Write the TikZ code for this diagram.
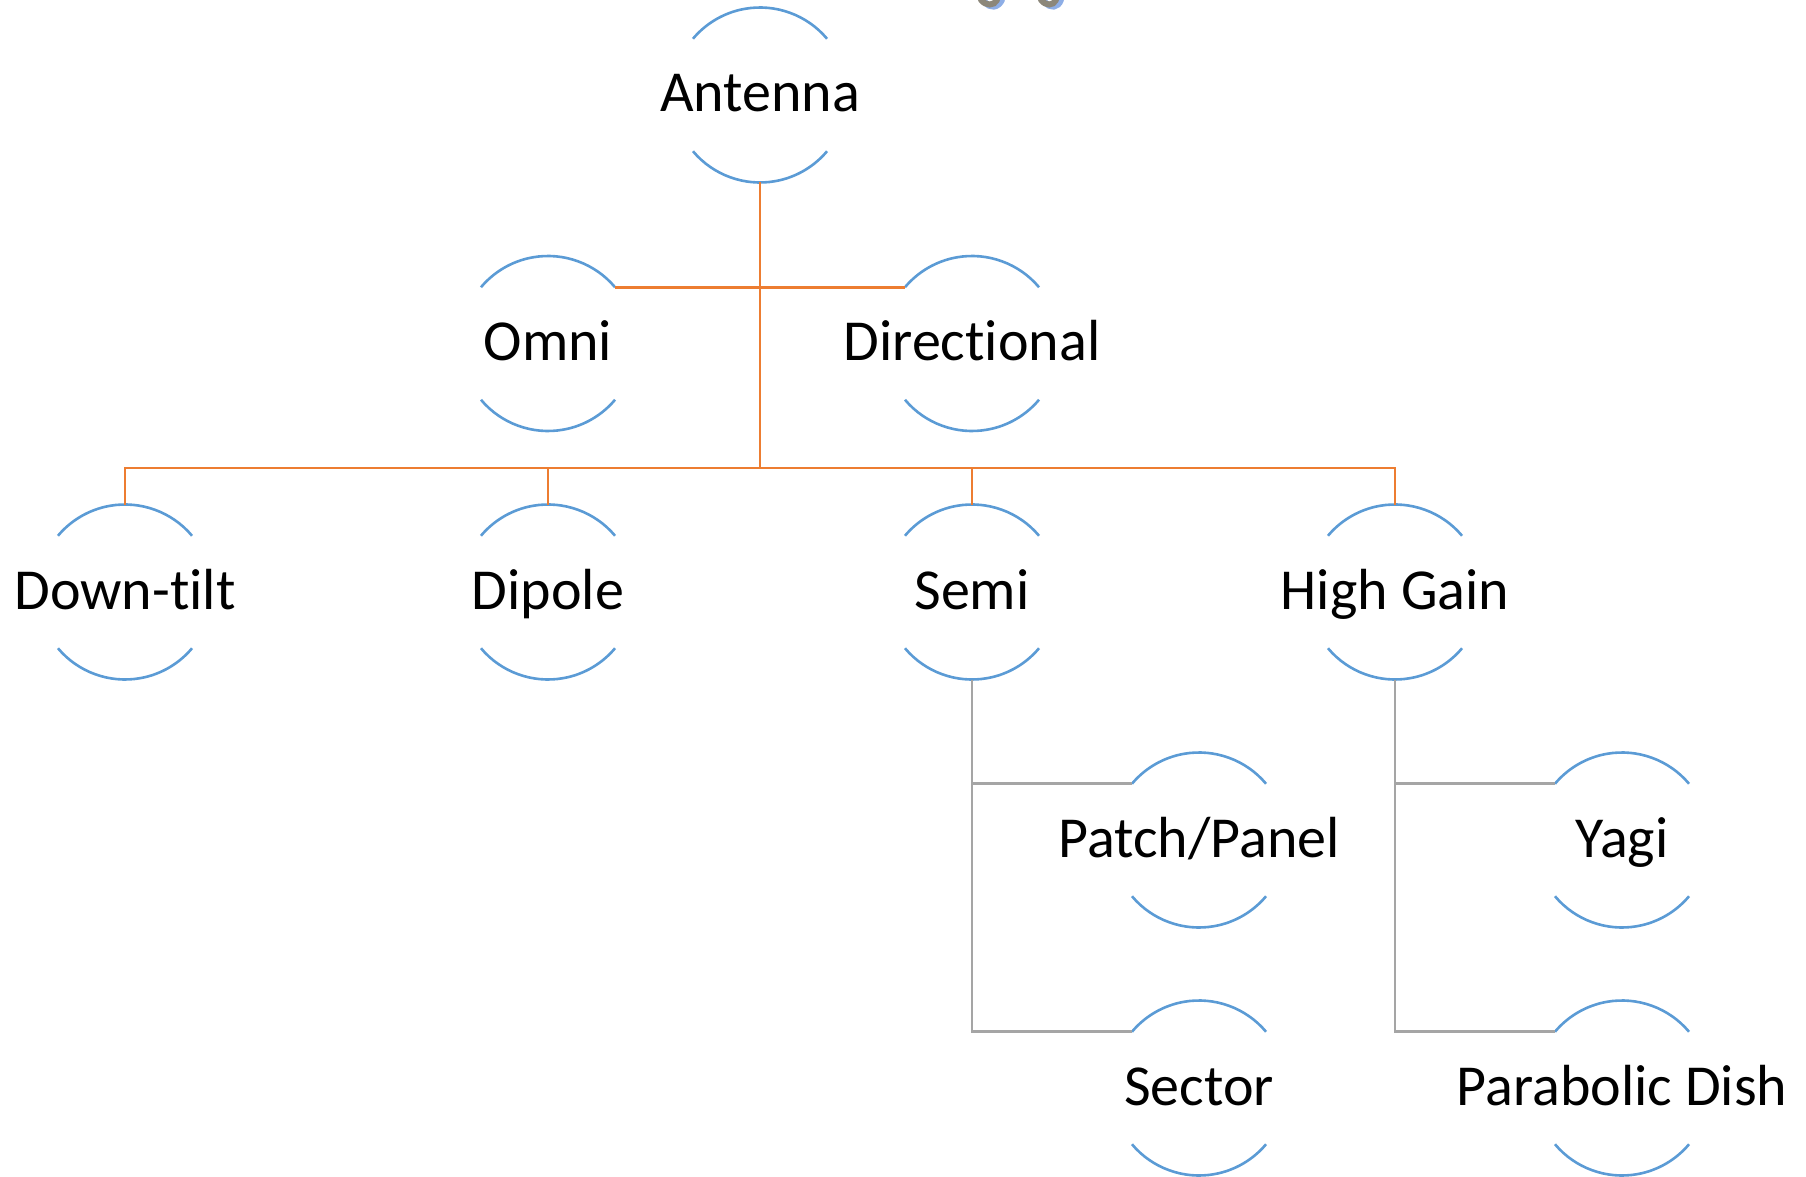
\documentclass[tikz,border=0pt]{standalone}
\usepackage{fontspec}
\setmainfont[Ligatures={NoCommon,NoRare,NoDiscretionary}]{Carlito}
\usetikzlibrary{calc}
\definecolor{arcblue}{HTML}{5B9BD5}
\definecolor{lineorange}{HTML}{ED7D31}
\definecolor{linegrey}{HTML}{A5A5A5}
\definecolor{glyphgrey}{HTML}{8C877A}
\definecolor{glyphshadow}{HTML}{8EAEE6}
\tikzset{
  ring/.style={circle, minimum size=87.5pt, inner sep=0pt, outer sep=0pt},
  arcline/.style={draw=arcblue, line width=1.3pt},
  orgline/.style={draw=lineorange, line width=1.4pt},
  greyline/.style={draw=linegrey, line width=1.4pt},
  lbl/.style={font=\fontsize{29}{34}\selectfont, inner sep=0pt, anchor=base}
}
\newcommand\antnode[4]{%
  \node[ring] (#1) at (#2,#3) {};
  \draw[arcline] (#1.40) arc[start angle=40, end angle=140, radius=43.75pt];
  \draw[arcline] (#1.220) arc[start angle=220, end angle=320, radius=43.75pt];
  \node[lbl] (#1-t) at ($(#1)+(0,17)$) {#4};
}
\begin{document}
\begin{tikzpicture}[x=0.5pt, y=-0.5pt]
\useasboundingbox (0,0) rectangle (1806,1177);
% stray glyph fragments at the top edge
\draw[glyphshadow, line width=3pt, line cap=round] (985,2) .. controls (990,9) and (998,8) .. (1002,0);
\draw[glyphgrey, line width=3pt, line cap=round] (981,0) .. controls (986,6) and (994,6) .. (997,0);
\draw[glyphshadow, line width=3pt, line cap=round] (1045,2) .. controls (1050,9) and (1058,8) .. (1061,0);
\draw[glyphgrey, line width=3pt, line cap=round] (1041,0) .. controls (1046,6) and (1053,6) .. (1056,0);

\antnode{ant}{760}{95}{Antenna}
\antnode{omni}{548}{343.5}{Omni}
\antnode{dir}{972}{343.5}{Directional}
\antnode{down}{125}{592}{Down-tilt}
\antnode{dip}{548}{592}{Dipole}
\antnode{semi}{972}{592}{Semi}
\antnode{high}{1395}{592}{High Gain}
\antnode{patch}{1199}{840}{Patch/Panel}
\antnode{sector}{1199}{1088}{Sector}
\antnode{yagi}{1622}{840}{Yagi}
\antnode{dish}{1622}{1088}{Parabolic Dish}

\coordinate (bus) at (760,468);
\draw[orgline] (ant.south) -- (bus);
\draw[orgline] (omni.40) -- (dir.140);
\draw[orgline] (down.north) |- (bus) -| (high.north);
\draw[orgline] (dip.north) -- (dip.north |- bus);
\draw[orgline] (semi.north) -- (semi.north |- bus);

\draw[greyline] (semi.south) |- (sector.140);
\draw[greyline] (semi.south |- patch.140) -- (patch.140);
\draw[greyline] (high.south) |- (dish.140);
\draw[greyline] (high.south |- yagi.140) -- (yagi.140);
\end{tikzpicture}
\end{document}
